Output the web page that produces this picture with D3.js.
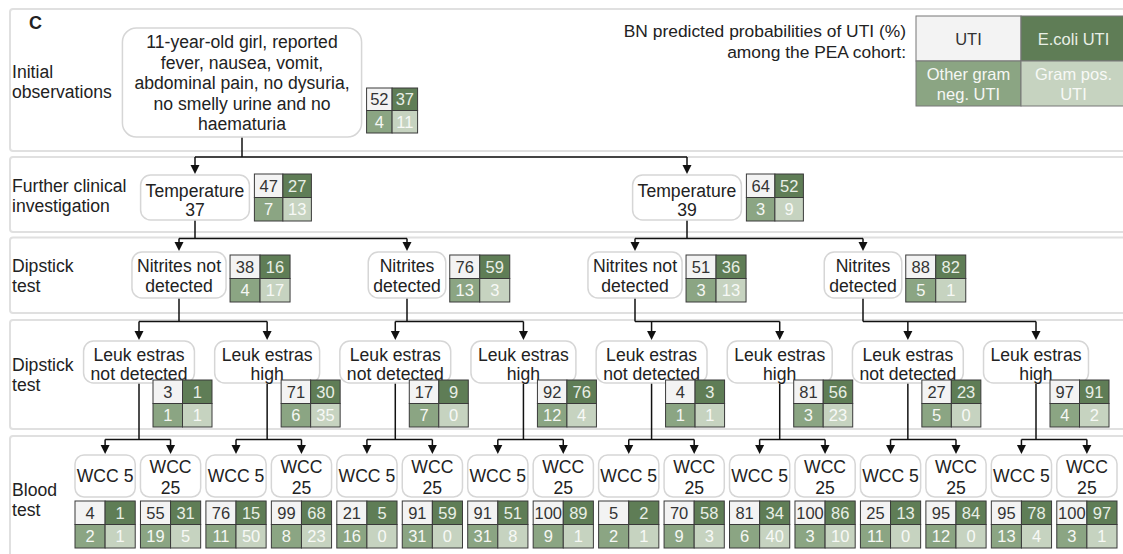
<!DOCTYPE html>
<html>
<head>
<meta charset="utf-8">
<script src="https://cdn.jsdelivr.net/npm/d3@7"></script>
<style>
  body { margin: 0; background: #fff; }
  svg { display: block; font-family: "Liberation Sans", Arial, sans-serif; }
</style>
</head>
<body>
<script>
// Tree nodes in breadth-first order: root, temperature, nitrites, leuk estras, WCC
const nodeText = [
  ["11-year-old girl, reported", "fever, nausea, vomit,", "abdominal pain, no dysuria,", "no smelly urine and no", "haematuria"],
  ["Temperature", "37"], ["Temperature", "39"],
  ["Nitrites not", "detected"], ["Nitrites", "detected"], ["Nitrites not", "detected"], ["Nitrites", "detected"],
  ["Leuk estras", "not detected"], ["Leuk estras", "high"], ["Leuk estras", "not detected"], ["Leuk estras", "high"],
  ["Leuk estras", "not detected"], ["Leuk estras", "high"], ["Leuk estras", "not detected"], ["Leuk estras", "high"],
  ["WCC 5"], ["WCC", "25"], ["WCC 5"], ["WCC", "25"], ["WCC 5"], ["WCC", "25"], ["WCC 5"], ["WCC", "25"],
  ["WCC 5"], ["WCC", "25"], ["WCC 5"], ["WCC", "25"], ["WCC 5"], ["WCC", "25"], ["WCC 5"], ["WCC", "25"]
];

// BN predicted probabilities (%) for each node, same order
const uti          = [52, 47, 64, 38, 76, 51, 88, 3, 71, 17, 92, 4, 81, 27, 97,
                      4, 55, 76, 99, 21, 91, 91, 100, 5, 70, 81, 100, 25, 95, 95, 100];
const ecoli        = [37, 27, 52, 16, 59, 36, 82, 1, 30, 9, 76, 3, 56, 23, 91,
                      1, 31, 15, 68, 5, 59, 51, 89, 2, 58, 34, 86, 13, 84, 78, 97];
const otherGramNeg = [4, 7, 3, 4, 13, 3, 5, 1, 6, 7, 12, 1, 3, 5, 4,
                      2, 19, 11, 8, 16, 31, 31, 9, 2, 9, 6, 3, 11, 12, 13, 3];
const gramPos      = [11, 13, 9, 17, 3, 13, 1, 1, 35, 0, 4, 1, 23, 0, 2,
                      1, 5, 50, 23, 0, 0, 8, 1, 1, 3, 40, 10, 0, 0, 4, 1];

const rowLabels = [["Initial", "observations"], ["Further clinical", "investigation"],
                   ["Dipstick", "test"], ["Dipstick", "test"], ["Blood", "test"]];
const legendTitle = ["BN predicted probabilities of UTI (%)", "among the PEA cohort:"];
const legendText = [["UTI"], ["E.coli UTI"], ["Other gram", "neg. UTI"], ["Gram pos.", "UTI"]];

// cell colours: UTI, E.coli, other gram neg., gram pos.
const cellFill = ["#f3f3f3", "#5f7d56", "#8ba583", "#c6d3c0"];
const cellInk  = ["#333", "#e9efe6", "#f5f7f4", "#f7f9f6"];

const W = 1123, H = 554;
const FS = 17.6;
const svg = d3.select("body").append("svg").attr("width", W).attr("height", H);

// row panels
const rows = [[9, 151], [157, 232], [237.5, 313], [320, 429], [436, 590]];
svg.selectAll("rect.row")
  .data(rows)
  .enter().append("rect")
  .attr("class", "row")
  .attr("x", 10).attr("y", d => d[0])
  .attr("width", 1140).attr("height", d => d[1] - d[0])
  .attr("rx", 3)
  .attr("fill", "none").attr("stroke", "#e0e0e0").attr("stroke-width", 2);

const rowLabelY = [78, 192, 272, 371, 496];
rowLabels.forEach((lines, i) => {
  const t = svg.append("text").attr("x", 12).attr("y", rowLabelY[i])
    .attr("font-size", FS).attr("fill", "#222");
  lines.forEach((l, j) => t.append("tspan").attr("x", 12).attr("dy", j ? 20 : 0).text(l));
});

svg.append("text").attr("x", 29).attr("y", 29)
  .attr("font-size", 18).attr("font-weight", "bold").attr("fill", "#222").text("C");

// legend
legendTitle.forEach((l, i) => {
  svg.append("text").attr("x", 906).attr("y", 37 + i * 20.5)
    .attr("text-anchor", "end").attr("font-size", 17.4).attr("fill", "#222").text(l);
});
const lgX = d3.scaleBand().domain([0, 1]).range([916, 1126]);
const lgY = d3.scaleBand().domain([0, 1]).range([16, 106]);
const lg = svg.append("g");
lg.selectAll("rect")
  .data(legendText)
  .enter().append("rect")
  .attr("x", (d, i) => lgX(i % 2)).attr("y", (d, i) => lgY(Math.floor(i / 2)))
  .attr("width", lgX.bandwidth()).attr("height", lgY.bandwidth())
  .attr("fill", (d, i) => cellFill[i]).attr("stroke", "#777").attr("stroke-width", 1);
legendText.forEach((lines, i) => {
  const cx = lgX(i % 2) + lgX.bandwidth() / 2;
  const y0 = lgY(Math.floor(i / 2));
  const first = lines.length === 1 ? y0 + 29 : y0 + 18.5;
  lines.forEach((l, j) => {
    lg.append("text").attr("x", cx).attr("y", first + j * 20)
      .attr("text-anchor", "middle").attr("font-size", 16.5)
      .attr("fill", cellInk[i]).text(l);
  });
});

// build the tree
const nodes = nodeText.map((t, i) => ({
  id: String(i),
  parent: i === 0 ? null : String(Math.floor((i - 1) / 2)),
  lines: t,
  probs: [uti[i], ecoli[i], otherGramNeg[i], gramPos[i]]
}));
const root = d3.stratify().id(d => d.id).parentId(d => d.parent)(nodes);

// horizontal position per level
const levelRange = [[242, 242], [195, 687], [179, 863], [139, 1036]];
const leafScale = d3.scaleBand().range([75, 1117]).paddingInner(0.08);
const byDepth = d3.group(root.descendants(), d => d.depth);
byDepth.forEach((list, depth) => {
  if (depth < 4) {
    const sc = d3.scalePoint().domain(list.map(d => d.id)).range(levelRange[depth]);
    list.forEach(d => { d.x = sc(d.id); });
  } else {
    leafScale.domain(list.map(d => d.id));
    list.forEach(d => { d.x = leafScale(d.id) + leafScale.bandwidth() / 2; });
  }
});

// vertical layout and box styling per level
const level = [
  {top: 28,  h: 109, pad: 12, rx: 14, first: 20.3, gap: 20.4, link: null},
  {top: 175, h: 45,  pad: 5,  rx: 10, first: 22,   gap: 19,   link: 157},
  {top: 252, h: 46,  pad: 5,  rx: 10, first: 19.5, gap: 20,   link: 238.5},
  {top: 341, h: 42,  pad: 7,  rx: 10, first: 20,   gap: 19,   link: 321.5},
  {top: 455, h: 42,  pad: 0,  rx: 9,  first: 18,   gap: 20.5, link: 439.5}
];

const linkG = svg.append("g");
const boxG = svg.append("g");
const gridG = svg.append("g");

// node labels first, so the box widths can follow the text
const all = root.descendants();
all.forEach(d => {
  const L = level[d.depth];
  const lines = d.data.lines;
  const g = boxG.append("g");
  const box = g.append("rect");
  const first = lines.length === 1 ? L.top + L.h / 2 + 6 : L.top + L.first;
  let wMax = 0;
  lines.forEach((l, j) => {
    const t = g.append("text").attr("x", d.x).attr("y", first + j * L.gap)
      .attr("text-anchor", "middle").attr("font-size", FS).attr("fill", "#222").text(l);
    wMax = Math.max(wMax, t.node().getComputedTextLength());
  });
  d.w = d.depth === 4 ? leafScale.bandwidth() : wMax + 2 * L.pad;
  box.attr("x", d.x - d.w / 2).attr("y", L.top)
    .attr("width", d.w).attr("height", L.h).attr("rx", L.rx)
    .attr("fill", "#fff").attr("stroke", "#d6d6d6").attr("stroke-width", 1.5);
});

// connectors with arrow heads
all.filter(d => d.children).forEach(p => {
  const Lp = level[p.depth], Lc = level[p.depth + 1];
  const ys = Lc.link;
  const xs = p.children.map(c => c.x).concat([p.x]);
  linkG.append("line").attr("x1", p.x).attr("x2", p.x)
    .attr("y1", Lp.top + Lp.h).attr("y2", ys);
  linkG.append("line").attr("x1", d3.min(xs)).attr("x2", d3.max(xs))
    .attr("y1", ys).attr("y2", ys);
  p.children.forEach(c => {
    linkG.append("line").attr("x1", c.x).attr("x2", c.x)
      .attr("y1", ys).attr("y2", Lc.top - 6);
    linkG.append("path")
      .attr("d", `M${c.x - 4.5},${Lc.top - 10}L${c.x + 4.5},${Lc.top - 10}L${c.x},${Lc.top - 1}Z`)
      .attr("fill", "#111");
  });
});
linkG.selectAll("line").attr("stroke", "#111").attr("stroke-width", 1.5);

// probability grids
function gridPos(d) {
  const L = level[d.depth];
  const right = d.x + d.w / 2;
  if (d.depth === 0) return {x: right + 5, y: L.top + L.h - 49, cw: 25.5, ch: 22.5};
  if (d.depth === 1) return {x: right + 5, y: L.top - 1, cw: 28.5, ch: 23.5};
  if (d.depth === 2) return {x: right + 4, y: L.top + 3, cw: 30, ch: 23.5};
  if (d.depth === 3) return {x: d.x + 14, y: L.top + L.h - 3, cw: 29.5, ch: 23.5};
  return {x: d.x - d.w / 2, y: L.top + L.h + 4, cw: d.w / 2, ch: 23.5};
}

all.forEach(d => {
  const p = gridPos(d);
  const cx = d3.scaleBand().domain([0, 1]).range([p.x, p.x + 2 * p.cw]);
  const cy = d3.scaleBand().domain([0, 1]).range([p.y, p.y + 2 * p.ch]);
  const g = gridG.append("g");
  g.selectAll("rect")
    .data(d.data.probs)
    .enter().append("rect")
    .attr("x", (v, i) => cx(i % 2)).attr("y", (v, i) => cy(Math.floor(i / 2)))
    .attr("width", cx.bandwidth()).attr("height", cy.bandwidth())
    .attr("fill", (v, i) => cellFill[i])
    .attr("stroke", "#3a3a3a").attr("stroke-width", 1);
  g.selectAll("text")
    .data(d.data.probs)
    .enter().append("text")
    .attr("x", (v, i) => cx(i % 2) + cx.bandwidth() / 2)
    .attr("y", (v, i) => cy(Math.floor(i / 2)) + cy.bandwidth() / 2 + 6)
    .attr("text-anchor", "middle").attr("font-size", 16.5)
    .attr("fill", (v, i) => cellInk[i])
    .text(v => v);
});
</script>
</body>
</html>
